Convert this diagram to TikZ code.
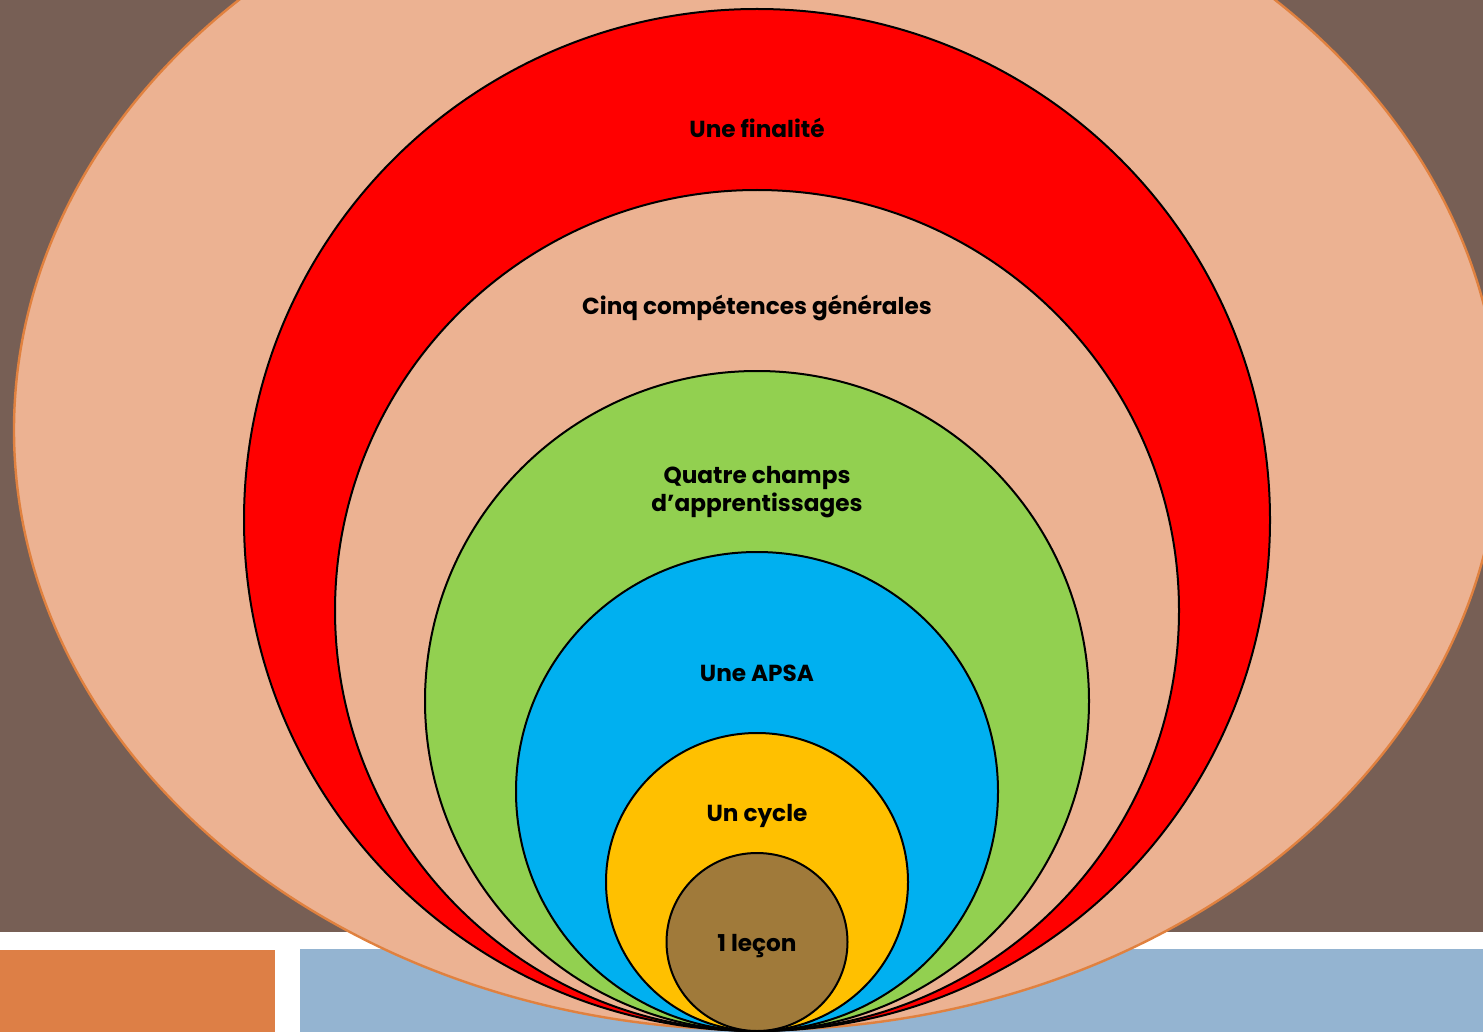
\documentclass[tikz,border=0pt]{standalone}
\usepackage{fontspec}
\setmainfont{Poppins}
\definecolor{slide}{HTML}{775F55}
\definecolor{peach}{HTML}{ECB292}
\definecolor{rim}{HTML}{E0813F}
\definecolor{barA}{HTML}{DD7F46}
\definecolor{barB}{HTML}{94B4D1}
\definecolor{ringA}{HTML}{FF0000}
\definecolor{ringB}{HTML}{92D050}
\definecolor{ringC}{HTML}{00B0F0}
\definecolor{ringD}{HTML}{FFC000}
\definecolor{ringE}{HTML}{A07A3A}
\tikzset{
  ring/.style={draw=black,line width=1pt},
  tag/.style={font=\bfseries\fontsize{11.6}{14}\selectfont,align=center,inner sep=0pt}
}
\begin{document}
\begin{tikzpicture}[x=0.5pt,y=-0.5pt]
\useasboundingbox (0,0) rectangle (1483,1032);
\clip (0,0) rectangle (1483,1032);
\def\cx{757} % common axis
\def\cy{1031} % touching point
% background
\fill[slide] (0,0) rectangle (1483,932);
\fill[barA] (0,950) rectangle (275,1032);
\fill[barB] (300,949) rectangle (1483,1032);
% outer field
\draw[fill=peach,draw=rim,line width=1.2pt] (\cx,430) ellipse [x radius=743,y radius=600];
% nested rings, all touching at the bottom
\draw[ring,fill=ringA] (\cx,\cy-511) ellipse [x radius=513,y radius=511];
\draw[ring,fill=peach] (\cx,\cy-420.5) ellipse [x radius=422,y radius=420.5];
\draw[ring,fill=ringB] (\cx,\cy-330) ellipse [x radius=332,y radius=330];
\draw[ring,fill=ringC] (\cx,\cy-239.5) ellipse [x radius=241,y radius=239.5];
\draw[ring,fill=ringD] (\cx,\cy-149) ellipse [x radius=151,y radius=149];
\draw[ring,fill=ringE] (\cx,\cy-89) ellipse [x radius=90.5,y radius=89];
% labels
\node[tag] (finalite) at (\cx,128) {Une finalité};
\node[tag] (competences) at (\cx,308) {Cinq compétences générales};
\node[tag] (champs) at (\cx,492) {Quatre champs\\d’apprentissages};
\node[tag] (apsa) at (\cx,673) {Une APSA};
\node[tag] (cycle) at (\cx,816) {Un cycle};
\node[tag] (lecon) at (\cx,946) {1 leçon};
\end{tikzpicture}
\end{document}
